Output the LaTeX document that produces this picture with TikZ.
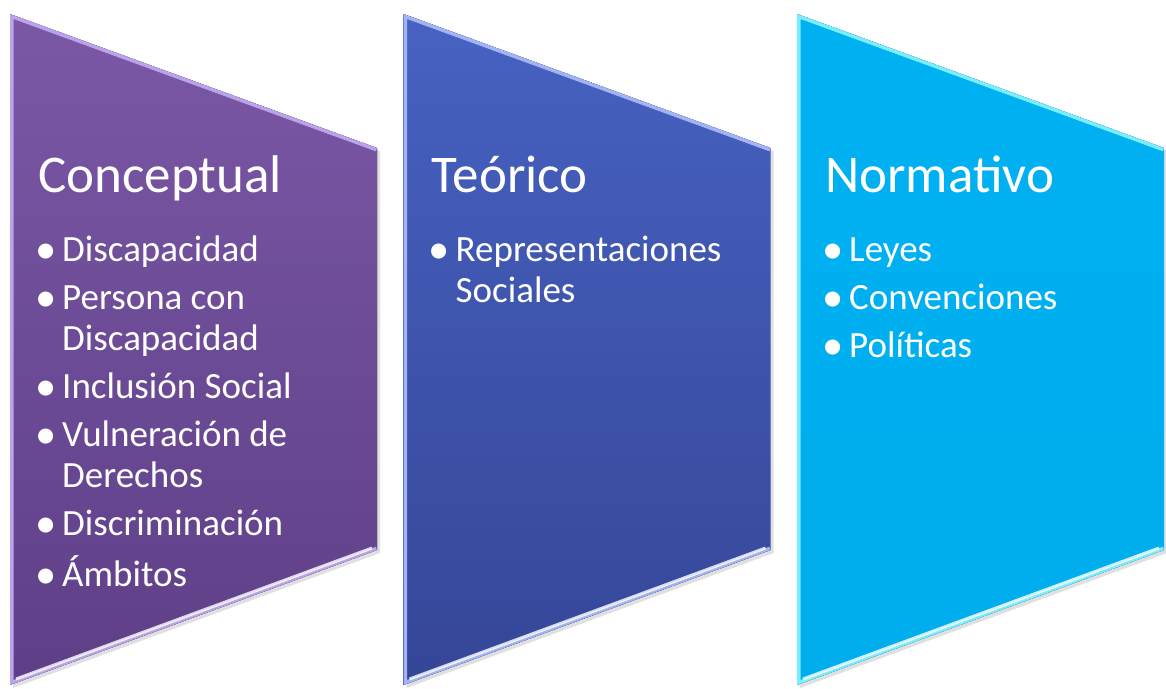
\documentclass[tikz,border=0pt]{standalone}
\usepackage{fontspec}
\setmainfont{Carlito}
\usetikzlibrary{positioning}
\definecolor{lilaTop}{HTML}{7B58A6}
\definecolor{lilaBot}{HTML}{5E3F87}
\definecolor{lilaEdge}{HTML}{B9A3EA}
\definecolor{azulTop}{HTML}{4762C2}
\definecolor{azulBot}{HTML}{354697}
\definecolor{azulEdge}{HTML}{A3B4F4}
\definecolor{cianTop}{HTML}{00B1F1}
\definecolor{cianBot}{HTML}{00ADED}
\definecolor{cianEdge}{HTML}{7AEEFF}
\newcommand{\itm}[1]{\par\hangindent=24pt\hangafter=1\rightskip=0pt plus 1fil\parfillskip=0pt plus 1fil
  \spaceskip=0pt\xspaceskip=0pt\hyphenpenalty=10000
  \noindent\makebox[24pt][l]{\hspace{-3pt}\raisebox{-0.04em}{\scalebox{1.15}{\textbullet}}}\strut#1\par}
\tikzset{
  heading/.style={anchor=base west,inner sep=0pt,text=white,font=\fontsize{53}{60}\selectfont},
  itemlist/.style={anchor=north west,inner sep=0pt,text=white,text width=320pt,
    font=\fontsize{37}{41}\selectfont\setlength{\parskip}{7pt}},
  shadow/.style={fill=black!12},
  bevel/.style={line width=7pt,line join=miter},
  gloss/.style={line width=3pt,white,opacity=.8}
}
\begin{document}
\begin{tikzpicture}[x=1pt,y=-1pt]
\useasboundingbox (0,0) rectangle (1166,688);

% Conceptual
\begin{scope}[xshift=10pt]
  \fill[shadow] (3,17) -- (370,151) -- (370,553) -- (3,688) -- cycle;
  \begin{scope}
    \clip (0,14) -- (367,148) -- (367,550) -- (0,685) -- cycle;
    \fill[top color=lilaTop,bottom color=lilaBot] (0,14) -- (367,148) -- (367,550) -- (0,685) -- cycle;
    \draw[bevel,draw=lilaEdge] (367,148) -- (0,14) -- (0,685) -- (367,550);
    \draw[gloss] (6,679) -- (362,548);
  \end{scope}
  \node[heading] (conceptual) at (28,192) {Conceptual};
  \node[itemlist] (conceptualList) at (28,213.5) {%
    \itm{Discapacidad}
    \itm{Persona con Discapacidad}
    \itm{Inclusión Social}
    \itm{Vulneración de Derechos}
    \itm{Discriminación}
    \itm{Ámbitos}};
\end{scope}

% Teórico
\begin{scope}[xshift=403.5pt]
  \fill[shadow] (3,17) -- (370,151) -- (370,553) -- (3,688) -- cycle;
  \begin{scope}
    \clip (0,14) -- (367,148) -- (367,550) -- (0,685) -- cycle;
    \fill[top color=azulTop,bottom color=azulBot] (0,14) -- (367,148) -- (367,550) -- (0,685) -- cycle;
    \draw[bevel,draw=azulEdge] (367,148) -- (0,14) -- (0,685) -- (367,550);
    \draw[gloss] (6,679) -- (362,548);
  \end{scope}
  \node[heading] (teorico) at (28,192) {Teórico};
  \node[itemlist] (teoricoList) at (28,213.5) {%
    \itm{Representaciones Sociales}};
\end{scope}

% Normativo
\begin{scope}[xshift=797pt]
  \fill[shadow] (3,17) -- (370,151) -- (370,553) -- (3,688) -- cycle;
  \begin{scope}
    \clip (0,14) -- (367,148) -- (367,550) -- (0,685) -- cycle;
    \fill[top color=cianTop,bottom color=cianBot] (0,14) -- (367,148) -- (367,550) -- (0,685) -- cycle;
    \draw[bevel,draw=cianEdge] (367,148) -- (0,14) -- (0,685) -- (367,550);
    \draw[gloss] (6,679) -- (362,548);
  \end{scope}
  \node[heading] (normativo) at (28,192) {Normativo};
  \node[itemlist] (normativoList) at (28,213.5) {%
    \itm{Leyes}
    \itm{Convenciones}
    \itm{Políticas}};
\end{scope}
\end{tikzpicture}
\end{document}
